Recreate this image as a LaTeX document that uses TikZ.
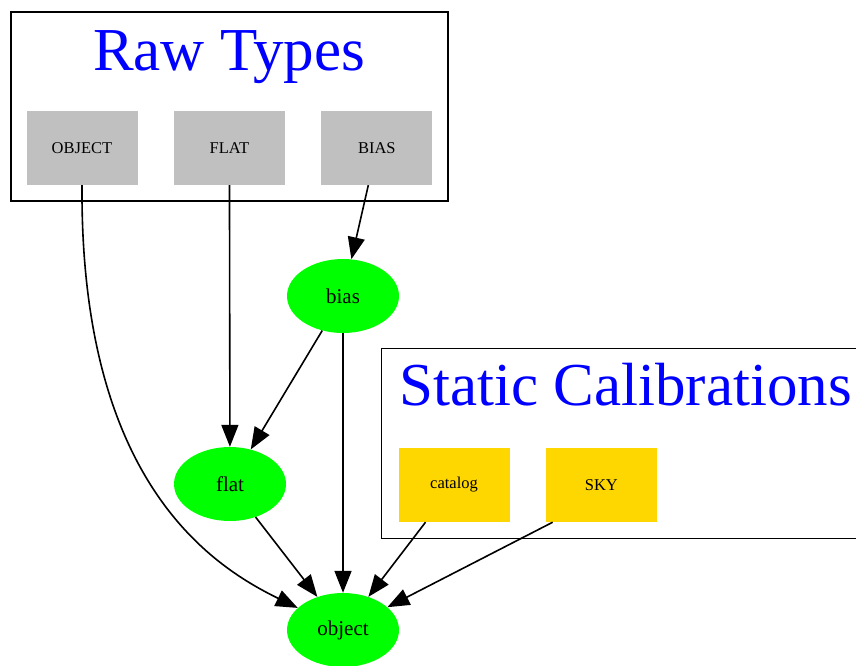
\documentclass[tikz,border=0pt]{standalone}
\usepackage{fontspec}
\setmainfont{Liberation Serif}
\usetikzlibrary{arrows.meta, shapes.geometric, positioning}

\definecolor{rawgray}{HTML}{C0C0C0}
\definecolor{calgold}{HTML}{FFD700}
\definecolor{prodgreen}{HTML}{00FF00}
\definecolor{titleblue}{HTML}{0000FF}

\begin{document}
\begin{tikzpicture}[x=1pt, y=1pt]
	\tikzset{node distance=36pt,
		link/.style={-{Triangle[length=22pt, width=17pt]}, line width=1.6pt},
		cluster/.style={draw, line width=1.4pt, inner sep=0pt},
		title/.style={text=titleblue, font=\fontsize{61}{61}\selectfont, anchor=base},
		rawtype/.style={fill=rawgray, minimum width=111, minimum height=74, inner sep=0pt, font=\fontsize{16.5}{16.5}\selectfont},
		statcal/.style={rawtype, fill=calgold},
		product/.style={ellipse, fill=prodgreen, minimum width=112, minimum height=74, inner sep=0pt, font=\fontsize{21}{21}\selectfont} }

	\useasboundingbox (0,0) rectangle (856,-665);
	\clip (0,0) rectangle (856,-665);

	% raw types
	\node[cluster, minimum width=437, minimum height=189] (rawbox) at (229.5,-106.5) {};
	\node[title] (rawtitle) at (229,-70) {Raw Types};
	\node[rawtype] (OBJECT) at (82,-148) {OBJECT};
	\node[rawtype, right=of OBJECT] (FLAT) {FLAT};
	\node[rawtype, right=of FLAT] (BIAS) {BIAS};

	% static calibrations
	\node[cluster, minimum width=500, minimum height=190, anchor=north west] (calbox) at (381,-348) {};
	\node[title, anchor=base west] (caltitle) at (396,-405) {Static Calibrations};
	\node[statcal] (catalog) at (454,-485) {catalog};
	\node[statcal, right=of catalog] (SKY) {SKY};

	% products
	\node[product] (bias) at (343,-296) {bias};
	\node[product] (flat) at (230,-484) {flat};
	\node[product] (object) at (343,-630) {object};

	\path[link]
		(BIAS) edge (bias)
		(FLAT) edge (flat)
		(bias) edge (flat)
		(bias) edge (object)
		(flat) edge (object)
		(catalog) edge (object)
		([xshift=7pt]SKY.south west) edge (object);
	\draw[link] (OBJECT.south) .. controls (80,-480) and (210,-565) .. (object);
\end{tikzpicture}
\end{document}
